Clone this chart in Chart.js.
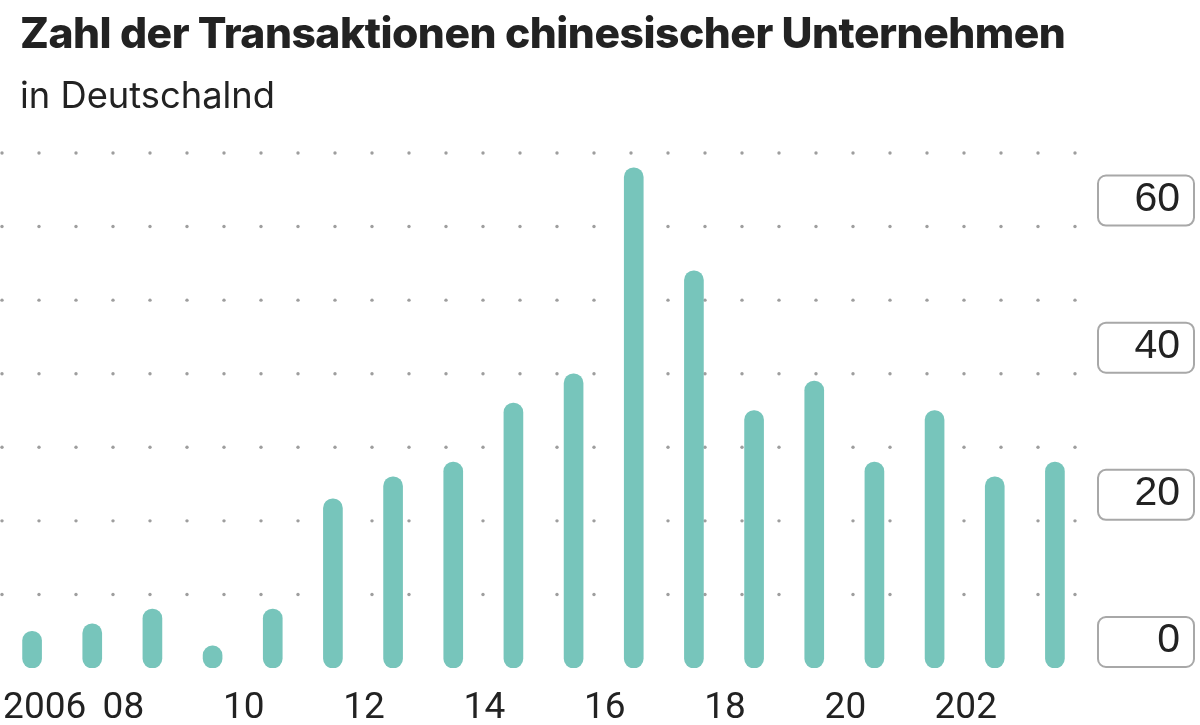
<!DOCTYPE html>
<html>
<head>
<meta charset="utf-8">
<script src="https://cdn.jsdelivr.net/npm/chart.js@4"></script>
<style>
  html, body { margin: 0; padding: 0; background: #fff; }
  #wrap { position: relative; width: 1200px; height: 725px; overflow: hidden; }
  #title { position: absolute; left: 20px; top: 8px; font-family: Inter, sans-serif; font-weight: 800; font-size: 42.6px; color: #222; letter-spacing: -0.5px; white-space: nowrap; line-height: 50px; }
  #subtitle { position: absolute; left: 20px; top: 73px; font-family: Inter, sans-serif; font-weight: 400; font-size: 36.3px; color: #222; white-space: nowrap; line-height: 44px; }
  canvas { position: absolute; left: 0; top: 0; }
</style>
</head>
<body>
<div id="wrap">
  <canvas id="c" width="1200" height="725"></canvas>
  <div id="title">Zahl der Transaktionen chinesischer Unternehmen</div>
  <div id="subtitle">in Deutschalnd</div>
</div>
<script>
const years = ["2006","2007","2008","2009","2010","2011","2012","2013","2014","2015","2016","2017","2018","2019","2020","2021","2022","2023"];
const transactions = [5, 6, 8, 3, 8, 23, 26, 28, 36, 40, 68, 54, 35, 39, 28, 35, 26, 28];
const xTickLabels = ["2006","","08","","10","","12","","14","","16","","18","","20","","202",""];
const yTickLabels = { 0: "0", 20: "20", 40: "40", 60: "60" };

const dotGrid = {
  id: 'dotGrid',
  beforeDatasetsDraw(chart) {
    const { ctx, chartArea, scales } = chart;
    const y = scales.y;
    ctx.save();
    ctx.fillStyle = '#9e9e9e';
    y.ticks.forEach(t => {
      if (t.value === 0) return;
      const py = y.getPixelForValue(t.value);
      for (let px = chartArea.left; px <= chartArea.right - 5; px += 37) {
        ctx.beginPath();
        ctx.arc(px, py, 1.7, 0, Math.PI * 2);
        ctx.fill();
      }
    });
    ctx.restore();
  }
};

const labelBoxes = {
  id: 'labelBoxes',
  afterDraw(chart) {
    const { ctx, scales } = chart;
    const y = scales.y;
    ctx.save();
    ctx.strokeStyle = '#a8a8a8';
    ctx.lineWidth = 2;
    Object.keys(yTickLabels).forEach(v => {
      const py = y.getPixelForValue(Number(v));
      const left = y.left + 13, top = py - 51, w = 96, h = 50;
      ctx.beginPath();
      ctx.roundRect(left, top, w, h, 8);
      ctx.stroke();
    });
    ctx.restore();
  }
};

new Chart(document.getElementById('c'), {
  type: 'bar',
  data: {
    labels: years,
    datasets: [{
      data: transactions,
      backgroundColor: '#77c5bb',
      barThickness: 19,
      borderRadius: 10,
      borderSkipped: false
    }]
  },
  options: {
    responsive: false,
    animation: false,
    devicePixelRatio: 1,
    layout: { padding: { top: 153, right: 20, left: 2, bottom: 0 } },
    plugins: { legend: { display: false }, tooltip: { enabled: false } },
    scales: {
      x: {
        grid: { display: false },
        border: { display: false },
        ticks: {
          autoSkip: false,
          maxRotation: 0,
          minRotation: 0,
          padding: 11,
          align: 'inner',
          labelOffset: -29,
          color: '#222',
          font: { family: 'Roboto', size: 37 },
          callback: (v, i) => xTickLabels[i]
        },
        afterFit(s) { s.paddingLeft = 0; s.paddingRight = 0; s.height = 57; }
      },
      y: {
        position: 'right',
        min: 0,
        max: 70,
        grid: { display: false },
        border: { display: false },
        ticks: {
          stepSize: 10,
          crossAlign: 'far',
          labelOffset: -27,
          color: '#222',
          font: { family: '"Liberation Sans"', size: 41 },
          callback: v => (yTickLabels[v] !== undefined ? yTickLabels[v] : '')
        },
        afterFit(s) { s.width = 95; s.paddingTop = 0; s.paddingBottom = 0; }
      }
    }
  },
  plugins: [dotGrid, labelBoxes]
});
</script>
</body>
</html>
